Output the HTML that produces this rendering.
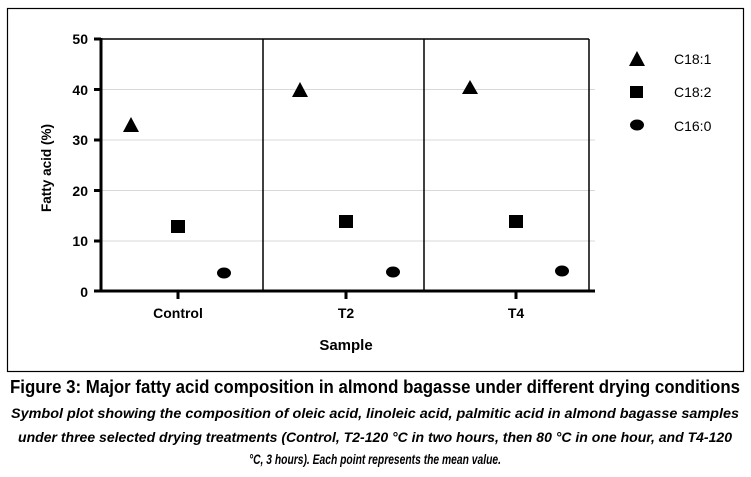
<!DOCTYPE html>
<html><head><meta charset="utf-8"><style>
html,body{margin:0;padding:0;background:#fff;}
svg{display:block;}
</style></head><body>
<svg width="751" height="477" xmlns="http://www.w3.org/2000/svg" font-family="Liberation Sans, sans-serif">
<rect x="0" y="0" width="751" height="477" fill="#fff"/>
<rect x="7.5" y="8.5" width="736" height="363" fill="none" stroke="#000" stroke-width="1.2"/>
<g stroke="#d8d8d8" stroke-width="1">
<line x1="101" y1="89.5" x2="595" y2="89.5"/>
<line x1="101" y1="140" x2="595" y2="140"/>
<line x1="101" y1="190.5" x2="595" y2="190.5"/>
<line x1="101" y1="241" x2="595" y2="241"/>
</g>
<g stroke="#000" stroke-width="1.5" fill="none">
<line x1="101" y1="39" x2="589" y2="39"/>
<line x1="589" y1="39" x2="589" y2="291"/>
<line x1="263" y1="39" x2="263" y2="291"/>
<line x1="424" y1="39" x2="424" y2="291"/>
</g>
<line x1="101" y1="38" x2="101" y2="292" stroke="#000" stroke-width="3"/>
<line x1="94" y1="291" x2="595" y2="291" stroke="#000" stroke-width="3"/>
<g stroke="#000" stroke-width="3">
<line x1="94" y1="39" x2="101" y2="39"/><line x1="94" y1="89.5" x2="101" y2="89.5"/>
<line x1="94" y1="140" x2="101" y2="140"/><line x1="94" y1="190.5" x2="101" y2="190.5"/>
<line x1="94" y1="241" x2="101" y2="241"/>
<line x1="178" y1="291" x2="178" y2="299"/><line x1="346" y1="291" x2="346" y2="299"/><line x1="516" y1="291" x2="516" y2="299"/>
</g>
<g font-size="14" font-weight="bold" text-anchor="end">
<text x="88" y="44">50</text><text x="88" y="95">40</text><text x="88" y="145">30</text>
<text x="88" y="196">20</text><text x="88" y="246">10</text><text x="88" y="297">0</text>
</g>
<g font-size="14" font-weight="bold" text-anchor="middle">
<text x="178" y="318">Control</text><text x="346" y="318">T2</text><text x="516" y="318">T4</text>
<text x="346" y="350" font-size="15">Sample</text>
</g>
<text transform="translate(51,168) rotate(-90)" font-size="14" font-weight="bold" text-anchor="middle" textLength="88" lengthAdjust="spacingAndGlyphs">Fatty acid (%)</text>
<g fill="#000">
<polygon points="131,117 123,132 139,132"/>
<polygon points="300,82 292,97 308,97"/>
<polygon points="470,80 462,94 478,94"/>
<rect x="171" y="220" width="14" height="13"/>
<rect x="339" y="215" width="14" height="13"/>
<rect x="509" y="215" width="14" height="13"/>
<ellipse cx="224" cy="273" rx="7" ry="5.5"/>
<ellipse cx="393" cy="272" rx="7" ry="5.5"/>
<ellipse cx="562" cy="271" rx="7" ry="5.5"/>
<polygon points="637,51 629,66 645,66"/>
<rect x="630" y="86" width="13" height="12"/>
<ellipse cx="637" cy="125" rx="7" ry="5.5"/>
</g>
<g font-size="14">
<text x="674" y="64">C18:1</text><text x="674" y="97">C18:2</text><text x="674" y="131">C16:0</text>
</g>
<text x="375" y="393" font-size="18" font-weight="bold" text-anchor="middle" textLength="730" lengthAdjust="spacingAndGlyphs">Figure 3: Major fatty acid composition in almond bagasse under different drying conditions</text>
<g font-size="14" font-weight="bold" font-style="italic" text-anchor="middle">
<text x="375" y="418" textLength="728" lengthAdjust="spacingAndGlyphs">Symbol plot showing the composition of oleic acid, linoleic acid, palmitic acid in almond bagasse samples</text>
<text x="375" y="442" textLength="714" lengthAdjust="spacingAndGlyphs">under three selected drying treatments (Control, T2-120 °C in two hours, then 80 °C in one hour, and T4-120</text>
<text x="375" y="464" textLength="252" lengthAdjust="spacingAndGlyphs">°C, 3 hours). Each point represents the mean value.</text>
</g>
</svg>
</body></html>
